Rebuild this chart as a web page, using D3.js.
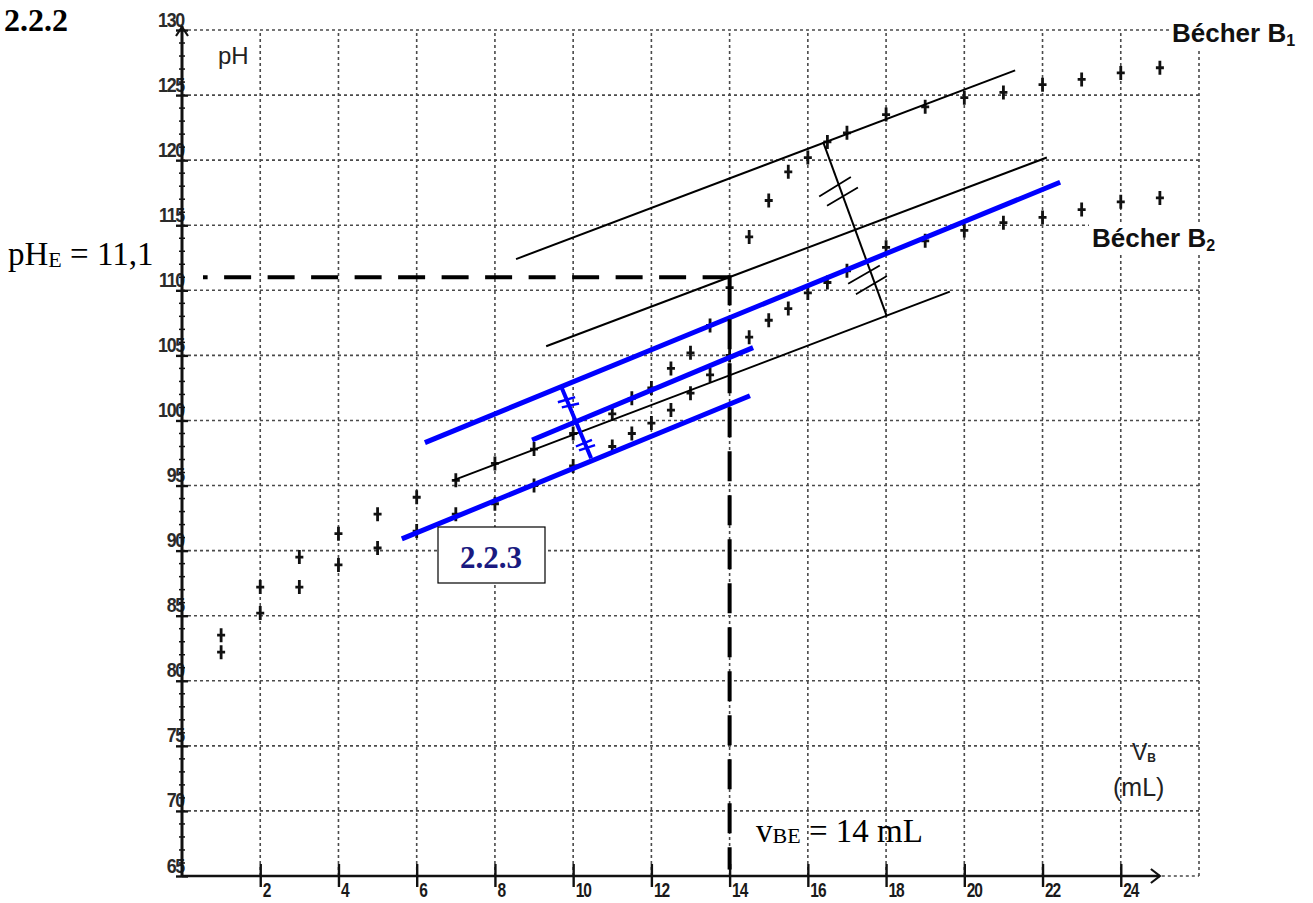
<!DOCTYPE html>
<html>
<head>
<meta charset="utf-8">
<script src="https://cdn.jsdelivr.net/npm/d3@7"></script>
<style>
  html, body { margin: 0; padding: 0; background: #fff; }
  svg { display: block; }
</style>
</head>
<body>
<svg id="chart" width="1313" height="903"></svg>
<script>
// Titration data: added volume V_B (mL) and measured pH, beaker B1
const volumesB1 = [1, 2, 3, 4, 5, 6, 7, 8, 9, 10, 11, 11.5, 12, 12.5, 13, 13.5, 14, 14.5, 15, 15.5, 16, 16.5, 17, 18, 19, 20, 21, 22, 23, 24, 25];
const phB1      = [8.35, 8.72, 8.95, 9.13, 9.28, 9.41, 9.54, 9.67, 9.78, 9.90, 10.05, 10.17, 10.25, 10.40, 10.52, 10.73, 11.02, 11.41, 11.69, 11.91, 12.02, 12.14, 12.21, 12.35, 12.41, 12.48, 12.52, 12.58, 12.62, 12.67, 12.71];

// Beaker B2
const volumesB2 = [1, 2, 3, 4, 5, 6, 7, 8, 9, 10, 11, 11.5, 12, 12.5, 13, 13.5, 14, 14.5, 15, 15.5, 16, 16.5, 17, 18, 19, 20, 21, 22, 23, 24, 25];
const phB2      = [8.22, 8.52, 8.72, 8.89, 9.02, 9.15, 9.28, 9.36, 9.50, 9.65, 9.80, 9.90, 9.98, 10.08, 10.21, 10.35, 10.50, 10.64, 10.77, 10.86, 10.98, 11.06, 11.15, 11.33, 11.38, 11.46, 11.52, 11.56, 11.62, 11.68, 11.71];

// Axis ticks
const xTickValues = [2, 4, 6, 8, 10, 12, 14, 16, 18, 20, 22, 24];
const xTickLabels = ["2", "4", "6", "8", "10", "12", "14", "16", "18", "20", "22", "24"];
const yTickValues = [6.5, 7.0, 7.5, 8.0, 8.5, 9.0, 9.5, 10.0, 10.5, 11.0, 11.5, 12.0, 12.5, 13.0];
const yTickLabels = ["65", "70", "75", "80", "85", "90", "95", "100", "105", "110", "115", "120", "125", "130"];
const xGridValues = [2, 4, 6, 8, 10, 12, 14, 16, 18, 20, 22, 24, 26];

// Equivalence point read with the parallel-tangent method
const vEquivalence = 14;
const pHEquivalence = 11.1;

// Parallel-tangent construction for B1 (mL, pH)
const tangentsB1 = [
  [[8.54, 11.24], [21.30, 12.69]],
  [[9.31, 10.57], [22.11, 12.02]],
  [[6.93, 9.54], [19.63, 10.99]]
];
const perpendicularB1 = [[16.39, 12.14], [18.02, 10.80]];
const hashesB1 = [
  [[16.29, 11.72], [17.10, 11.87]],
  [[16.49, 11.65], [17.28, 11.79]],
  [[17.03, 11.05], [17.84, 11.19]],
  [[17.23, 10.97], [18.02, 11.11]]
];

// Parallel-tangent construction for B2 (mL, pH)
const tangentsB2 = [
  [[6.21, 9.83], [22.45, 11.83]],
  [[8.95, 9.85], [14.60, 10.56]],
  [[5.62, 9.09], [14.52, 10.19]]
];
const perpendicularB2 = [[9.71, 10.25], [10.46, 9.71]];
const hashesB2 = [
  [[9.61, 10.14], [10.05, 10.18]],
  [[9.71, 10.10], [10.15, 10.13]],
  [[10.07, 9.80], [10.48, 9.85]],
  [[10.15, 9.77], [10.56, 9.81]]
];

const svg = d3.select("#chart");
svg.append("rect").attr("width", 1313).attr("height", 903).attr("fill", "#fff");

const x = d3.scaleLinear().domain([0, 26]).range([182, 1199]);
const y = d3.scaleLinear().domain([6.5, 13]).range([876, 30]);

const SANS = "'Liberation Sans', Arial, Helvetica, sans-serif";
const SERIF = "'Liberation Serif', 'Times New Roman', Times, serif";

// Dotted grid
const grid = svg.append("g").attr("stroke", "#4a4a4a").attr("stroke-width", 1.6)
  .attr("stroke-dasharray", "3,3").attr("fill", "none");
grid.selectAll("line.h").data(yTickValues.filter(v => v > 6.5)).join("line")
  .attr("class", "h")
  .attr("x1", x(0)).attr("x2", x(26))
  .attr("y1", d => y(d)).attr("y2", d => y(d));
grid.selectAll("line.v").data(xGridValues).join("line")
  .attr("class", "v")
  .attr("x1", d => x(d)).attr("x2", d => x(d))
  .attr("y1", y(6.5)).attr("y2", y(13));
// dotted continuation of the bottom edge past the arrow
grid.append("line").attr("x1", x(25.05)).attr("x2", x(26)).attr("y1", y(6.5)).attr("y2", y(6.5));

// X axis
const xAxis = d3.axisBottom(x).tickValues(xTickValues)
  .tickFormat((d, i) => xTickLabels[i]).tickSize(11).tickSizeOuter(0);
const gx = svg.append("g").attr("transform", `translate(0,${y(6.5)})`).call(xAxis);
gx.select(".domain").remove();
gx.selectAll(".tick line").attr("y1", -12).attr("y2", 11).attr("stroke", "#111").attr("stroke-width", 2.4);
gx.selectAll(".tick text")
  .attr("text-anchor", "start").attr("x", null).attr("y", null).attr("dy", null)
  .attr("transform", "translate(2,21) scale(0.74,1)")
  .attr("font-family", SANS).attr("font-size", 21).attr("font-weight", "bold").attr("fill", "#1a1a1a")
  .attr("letter-spacing", -1.5);
svg.append("line").attr("x1", x(0)).attr("x2", x(25)).attr("y1", y(6.5)).attr("y2", y(6.5))
  .attr("stroke", "#111").attr("stroke-width", 2.4);
// arrow head on the volume axis
svg.append("path")
  .attr("d", `M${x(25) - 9},${y(6.5) - 7} L${x(25)},${y(6.5)} L${x(25) - 9},${y(6.5) + 7}`)
  .attr("fill", "none").attr("stroke", "#111").attr("stroke-width", 2.2);

// Y axis
const yAxis = d3.axisLeft(y).tickValues(yTickValues)
  .tickFormat((d, i) => yTickLabels[i]).tickSize(6).tickSizeOuter(0);
const gy = svg.append("g").attr("transform", `translate(${x(0)},0)`).call(yAxis);
gy.select(".domain").remove();
gy.selectAll(".tick line").attr("x1", -6).attr("x2", 6).attr("stroke", "#111").attr("stroke-width", 2.4);
gy.selectAll(".tick text")
  .attr("text-anchor", "end").attr("x", null).attr("y", null).attr("dy", null)
  .attr("transform", "translate(2,-4) scale(0.85,1)")
  .attr("font-family", SANS).attr("font-size", 21).attr("font-weight", "bold").attr("fill", "#2a2a2a")
  .attr("letter-spacing", -1.5);
// minor ticks every 0.1 pH unit
const minor = d3.range(65, 131).map(v => v / 10).filter(v => Math.round(v * 10) % 5 !== 0);
svg.append("g").selectAll("line").data(minor).join("line")
  .attr("x1", x(0) - 3).attr("x2", x(0) + 3)
  .attr("y1", d => y(d)).attr("y2", d => y(d))
  .attr("stroke", "#111").attr("stroke-width", 1.5);
svg.append("line").attr("x1", x(0)).attr("x2", x(0)).attr("y1", y(6.5)).attr("y2", y(13) - 4)
  .attr("stroke", "#111").attr("stroke-width", 3);
svg.append("path")
  .attr("d", `M${x(0) - 6},${y(13) + 6} L${x(0)},${y(13) - 3} L${x(0) + 6},${y(13) + 6}`)
  .attr("fill", "none").attr("stroke", "#111").attr("stroke-width", 2.2);

// Measured points drawn as small crosses
const cross = "M0,-7V7M-4,0H4";
function drawPoints(vols, phs) {
  svg.append("g").selectAll("path").data(vols.map((v, i) => [v, phs[i]])).join("path")
    .attr("d", cross)
    .attr("transform", d => `translate(${x(d[0])},${y(d[1])})`)
    .attr("stroke", "#111").attr("stroke-width", 2.8).attr("fill", "none");
}
drawPoints(volumesB1, phB1);
drawPoints(volumesB2, phB2);

// Construction lines
const seg = d => `M${x(d[0][0])},${y(d[0][1])}L${x(d[1][0])},${y(d[1][1])}`;
function drawSegments(list, color, width) {
  svg.append("g").selectAll("path").data(list).join("path")
    .attr("d", seg).attr("stroke", color).attr("stroke-width", width)
    .attr("fill", "none").attr("stroke-linecap", "butt");
}
drawSegments(tangentsB1, "#000", 2);
drawSegments([perpendicularB1], "#000", 2);
drawSegments(hashesB1, "#000", 1.8);
drawSegments(tangentsB2, "#0000ff", 5);
drawSegments([perpendicularB2], "#0000ff", 4);
drawSegments(hashesB2, "#0000ff", 2.4);

// Equivalence guides (corner kept solid)
svg.append("line")
  .attr("x1", x(vEquivalence)).attr("x2", 203)
  .attr("y1", y(pHEquivalence)).attr("y2", y(pHEquivalence))
  .attr("stroke", "#000").attr("stroke-width", 4).attr("stroke-dasharray", "27,16.5");
svg.append("line")
  .attr("x1", x(vEquivalence)).attr("x2", x(vEquivalence))
  .attr("y1", y(pHEquivalence) - 2).attr("y2", y(6.55))
  .attr("stroke", "#000").attr("stroke-width", 4).attr("stroke-dasharray", "30,14");

// Series labels on white backing
function seriesLabel(px, py, name, sub, bgW) {
  svg.append("rect").attr("x", px - 3).attr("y", py - 23).attr("width", bgW).attr("height", 31).attr("fill", "#fff");
  const t = svg.append("text").attr("x", px).attr("y", py)
    .attr("font-family", SANS).attr("font-weight", "bold").attr("font-size", 26).attr("fill", "#111");
  t.append("tspan").text(name);
  t.append("tspan").attr("font-size", 16).attr("dy", 4).text(sub);
}
seriesLabel(1172, 42, "Bécher B", "1", 138);
seriesLabel(1092, 247, "Bécher B", "2", 136);

// Axis titles
svg.append("text").attr("x", 218).attr("y", 64)
  .attr("font-family", SANS).attr("font-size", 24).attr("fill", "#222").text("pH");
const vb = svg.append("text").attr("x", 1132).attr("y", 760)
  .attr("font-family", SANS).attr("font-size", 23).attr("fill", "#222");
vb.append("tspan").text("V");
vb.append("tspan").attr("font-size", 12).attr("font-weight", "bold").attr("dy", 2).text("B");
svg.append("text").attr("x", 1113).attr("y", 796)
  .attr("font-family", SANS).attr("font-size", 25).attr("fill", "#222").text("(mL)");

// Section number and read-off values
svg.append("text").attr("x", 4).attr("y", 31)
  .attr("font-family", SERIF).attr("font-weight", "bold").attr("font-size", 32).attr("fill", "#000").text("2.2.2");

const phE = svg.append("text").attr("x", 8).attr("y", 265)
  .attr("font-family", SERIF).attr("font-size", 33).attr("fill", "#000");
phE.append("tspan").text("pH");
phE.append("tspan").attr("font-size", 22).attr("dy", 2).text("E");
phE.append("tspan").attr("dy", -2).text(" = " + String(pHEquivalence).replace(".", ","));

const vbe = svg.append("text").attr("x", 756).attr("y", 842)
  .attr("font-family", SERIF).attr("font-size", 33).attr("fill", "#000");
vbe.append("tspan").text("v");
vbe.append("tspan").attr("font-size", 22).attr("dy", 1).text("BE");
vbe.append("tspan").attr("dy", -1).text(" = " + vEquivalence + " mL");

// Boxed reference to the next question
svg.append("rect").attr("x", 438).attr("y", 527).attr("width", 107).attr("height", 56)
  .attr("fill", "#fff").attr("stroke", "#000").attr("stroke-width", 1.2);
svg.append("text").attr("x", 491).attr("y", 568).attr("text-anchor", "middle")
  .attr("font-family", SERIF).attr("font-weight", "bold").attr("font-size", 31).attr("fill", "#1a1a80").text("2.2.3");
</script>
</body>
</html>
